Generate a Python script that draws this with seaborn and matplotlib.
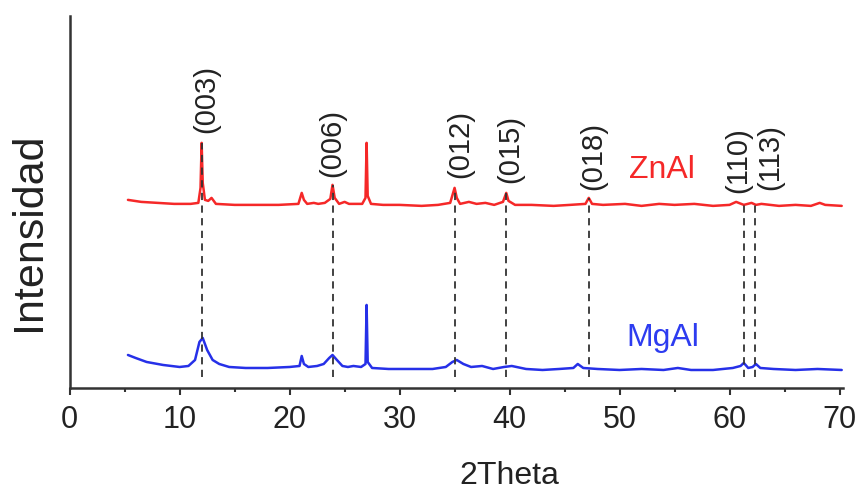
import matplotlib
matplotlib.use("Agg")
import matplotlib.pyplot as plt
import seaborn as sns
import pandas as pd

# ZnAl pattern (2theta, intensity in arbitrary units, offset above MgAl)
znal_x = [5.3, 6.5, 8, 9.5, 11.0, 11.7, 11.9, 12.0, 12.1, 12.3, 12.6, 12.9, 13.3, 15, 17,
          19, 20.8, 21.1, 21.3, 21.6, 22.2, 22.6, 23.2, 23.7, 23.9, 24.1, 24.5, 25.0, 25.4, 25.8,
          26.6, 26.9, 27.0, 27.1, 27.4, 28.5, 30, 32, 33.5, 34.6, 35.0, 35.2, 35.5, 36.3, 37.0,
          37.8, 38.6, 39.4, 39.7, 39.9, 40.5, 42, 44, 45.5, 46.9, 47.2, 47.5, 48.5, 50.5, 52,
          53.6, 55, 56.8, 58.5, 60.0, 60.6, 61.3, 62.0, 62.4, 62.9, 64.5, 66, 67.4, 68.2, 68.7,
          70.2]
znal_y = [188, 186, 185, 184, 184, 185, 200, 245, 205, 188, 187, 190, 184, 183, 183,
          183, 184, 195, 188, 184, 185, 184, 185, 189, 203, 190, 184, 186, 184, 184,
          184, 190, 245, 192, 184, 183, 183, 182, 183, 185, 200, 190, 184, 186, 184,
          185, 183, 186, 195, 187, 183, 183, 182, 183, 184, 190, 184, 183, 184, 182,
          184, 183, 184, 182, 183, 186, 183, 185, 183, 184, 182, 183, 182, 185, 183,
          182]

# MgAl pattern
mgal_x = [5.3, 6, 7, 8.5, 10, 10.8, 11.4, 11.8, 12.1, 12.5, 13.0, 13.6, 14.5, 16, 18,
          20, 20.9, 21.1, 21.3, 21.7, 22.5, 23.1, 23.6, 23.9, 24.3, 24.8, 25.3, 25.8, 26.5, 26.9,
          27.0, 27.1, 27.5, 29, 31, 33, 34.2, 34.8, 35.2, 35.8, 36.5, 37.5, 38.5, 39.5, 40.2,
          41.5, 43, 44.5, 45.8, 46.2, 46.7, 48, 50, 52, 54, 55.3, 56.5, 58.5, 60.3, 61.0,
          61.3, 61.7, 62.1, 62.4, 62.8, 64, 66, 68, 70.2]
mgal_y = [33, 30, 26, 23, 21, 22, 28, 46, 50, 38, 28, 24, 21, 20, 20,
          21, 22, 32, 24, 21, 22, 24, 30, 33, 28, 22, 21, 22, 21, 24,
          83, 26, 20, 19, 19, 19, 21, 26, 28, 24, 21, 22, 19, 21, 22,
          19, 18, 19, 20, 24, 20, 19, 18, 19, 18, 20, 18, 18, 20, 22,
          25, 20, 21, 24, 20, 19, 18, 19, 18]

# reflections
hkl_labels = ["(003)", "(006)", "(012)", "(015)", "(018)", "(110)", "(113)"]
hkl_pos = [12.0, 23.9, 35.0, 39.7, 47.2, 61.3, 62.3]
hkl_top = [245, 203, 200, 195, 190, 183, 183]
label_x = [12.4, 23.9, 35.5, 40.1, 47.6, 60.8, 63.7]
label_y = [255, 211, 210, 205, 198, 195, 198]

df = pd.concat([
    pd.DataFrame({"2theta": znal_x, "I": znal_y, "muestra": "ZnAl"}),
    pd.DataFrame({"2theta": mgal_x, "I": mgal_y, "muestra": "MgAl"}),
])

sns.set_style("ticks")
plt.rcParams["font.family"] = ["Liberation Sans", "DejaVu Sans"]

fig = plt.figure(figsize=(8.6, 4.93), dpi=100)
ax = fig.add_axes([0.081, 0.213, 0.899, 0.755])

sns.lineplot(data=df, x="2theta", y="I", hue="muestra",
             palette={"ZnAl": "#f52828", "MgAl": "#2630e8"},
             sort=False, estimator=None, linewidth=1.8, legend=False, ax=ax)

ax.vlines(hkl_pos, 11, hkl_top, colors="#333333", linewidth=1.3,
          linestyles=(0, (4, 3)), zorder=3)
for lab, lx, ly in zip(hkl_labels, label_x, label_y):
    ax.text(lx, ly, lab, rotation=90, ha="center", va="bottom",
            fontsize=21, color="#222222")

ax.text(53.9, 218, "ZnAl", color="#f52828", fontsize=23, ha="center", va="center")
ax.text(53.9, 50, "MgAl", color="#2d3cf0", fontsize=23, ha="center", va="center")

ax.set_xlim(0, 70.3)
ax.set_ylim(0, 372)
ax.set_xticks(range(0, 71, 10))
ax.set_xticks(range(5, 71, 10), minor=True)
ax.set_yticks([])
ax.tick_params(axis="x", which="major", length=5, width=1.5, labelsize=22,
               pad=7, color="#333333", labelcolor="#222222")
ax.tick_params(axis="x", which="minor", length=3, width=1.5, color="#333333")
sns.despine(ax=ax)
for s in ["left", "bottom"]:
    ax.spines[s].set_linewidth(1.8)
    ax.spines[s].set_color("#333333")

ax.set_xlabel("2Theta", fontsize=23, color="#222222")
ax.xaxis.set_label_coords(40 / 70.3, -0.195)
ax.set_ylabel("Intensidad", fontsize=31, color="#222222")
ax.yaxis.set_label_coords(-0.027, 0.42)

plt.savefig("out.png", dpi=100)
plt.close()
